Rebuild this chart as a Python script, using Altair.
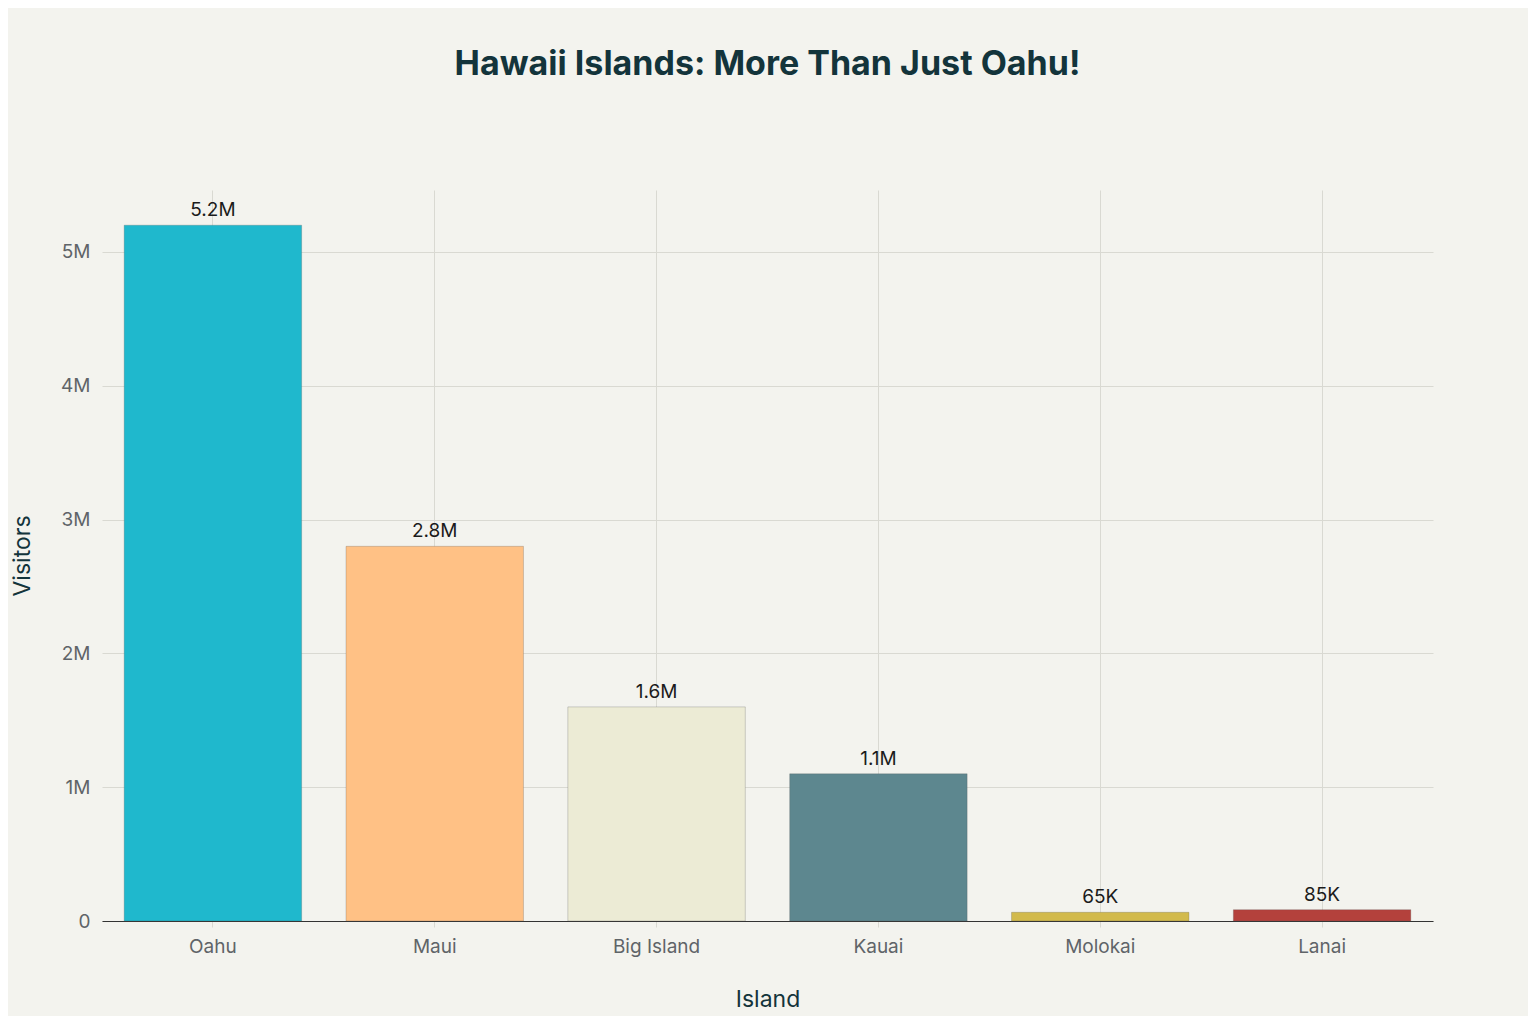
import altair as alt
import pandas as pd

islands = ["Oahu", "Maui", "Big Island", "Kauai", "Molokai", "Lanai"]
visitors = [5200000, 2800000, 1600000, 1100000, 65000, 85000]
labels = ["5.2M", "2.8M", "1.6M", "1.1M", "65K", "85K"]
colors = ["#1FB8CD", "#FFC185", "#ECEBD5", "#5D878F", "#D2BA4C", "#B4413C"]

data = pd.DataFrame({"island": islands, "visitors": visitors, "label": labels})

FONT = "Inter"

x = alt.X(
    "island:N",
    sort=islands,
    title="Island",
    scale=alt.Scale(paddingInner=0.2, paddingOuter=0.1),
    axis=alt.Axis(
        labelAngle=0,
        bandPosition=0.5,
        grid=True,
        gridColor="#d9d9d2",
        domainColor="#333333",
        tickColor="#d9d9d2",
        tickSize=6,
        labelPadding=10,
        titlePadding=32,
    ),
)
y = alt.Y(
    "visitors:Q",
    title="Visitors",
    scale=alt.Scale(domain=[0, 5463000], nice=False),
    axis=alt.Axis(
        values=[0, 1000000, 2000000, 3000000, 4000000, 5000000],
        labelExpr="datum.value == 0 ? '0' : format(datum.value / 1000000, 'd') + 'M'",
        domain=False,
        ticks=False,
        labelPadding=12,
        gridColor="#d9d9d2",
        titlePadding=26,
    ),
)

bars = (
    alt.Chart(data)
    .mark_bar(strokeWidth=1, strokeOpacity=0.25, stroke="#555555")
    .encode(
        x=x,
        y=y,
        color=alt.Color("island:N", sort=islands, scale=alt.Scale(domain=islands, range=colors), legend=None),
    )
)

text = (
    alt.Chart(data)
    .mark_text(baseline="bottom", dy=-5, fontSize=19, font=FONT, color="#1b1b1b")
    .encode(x=alt.X("island:N", sort=islands), y="visitors:Q", text="label:N")
)

chart = (
    (bars + text)
    .properties(
        width=1331,
        height=731,
        background="#F3F3EE",
        autosize=alt.AutoSizeParams(type="none"),
        padding={"left": 94, "top": 182, "right": 95, "bottom": 95},
        title=alt.TitleParams(
            "Hawaii Islands: More Than Just Oahu!",
            fontSize=34,
            font=FONT,
            fontWeight="bold",
            color="#13343B",
            anchor="middle",
            offset=108,
        ),
    )
    .configure_view(strokeOpacity=0)
    .configure_axis(
        labelFont=FONT,
        titleFont=FONT,
        labelFontSize=19,
        titleFontSize=23,
        labelColor="#5f6468",
        titleColor="#13343B",
        titleFontWeight="normal",
    )
)

chart.save("out.html", embed_options={"renderer": "svg", "actions": False})
